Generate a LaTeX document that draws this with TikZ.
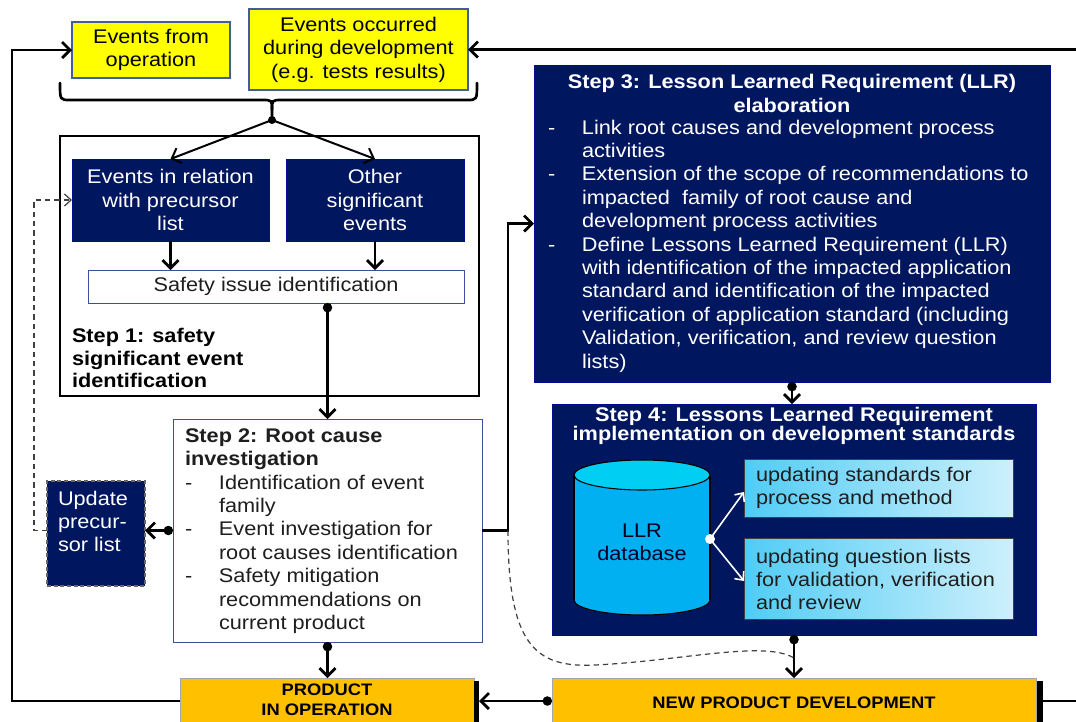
\documentclass[tikz,border=0pt]{standalone}
\usepackage{fontspec}
\setmainfont{Liberation Sans}[FakeStretch=1.1]
\usetikzlibrary{arrows.meta,fit,calc}
\definecolor{navy}{RGB}{0,22,94}
\definecolor{ylw}{RGB}{255,255,0}
\definecolor{ylwb}{RGB}{70,90,160}
\definecolor{bluebd}{RGB}{60,80,160}
\definecolor{orng}{RGB}{255,192,0}
\definecolor{cylbody}{RGB}{0,176,240}
\definecolor{cyltop}{RGB}{0,206,242}
\definecolor{lbL}{RGB}{80,204,245}
\definecolor{lbR}{RGB}{205,240,252}
\definecolor{txtd}{RGB}{30,30,30}
\newcommand{\Dsh}{\makebox[25.5pt][l]{-}}
\newcommand{\Ind}{\hspace*{25.5pt}}
\tikzset{
  bbarb/.tip={Straight Barb[length=6pt,width=12pt]},
  wbarb/.tip={Straight Barb[length=5pt,width=9pt]},
  dott/.tip={Circle[length=7pt]},
}
\begin{document}
\begin{tikzpicture}[x=0.75pt,y=-0.75pt,
  font=\fontsize{14.8}{17.55}\selectfont,
  every node/.style={inner sep=0pt, outer sep=0pt},
  ybox/.style={draw=ylwb, line width=0.8pt, fill=ylw},
  nbox/.style={fill=navy, draw=navy!70!blue, line width=0.5pt},
  wbox/.style={fill=white, draw=bluebd, line width=0.7pt},
  obox/.style={fill=orng, draw=gray!70, line width=0.5pt},
  lbox/.style={left color=lbL, right color=lbR, draw=black!75, line width=0.7pt},
  txt/.style={align=left, text=txtd},
  ctxt/.style={align=center},
  thk/.style={line width=2pt},
  mid/.style={line width=1.5pt},
  dsh/.style={line width=0.9pt, draw=black!75, dash pattern=on 4pt off 3pt},
]
\useasboundingbox (0,0) rectangle (1076,722);
\clip (0,0) rectangle (1076,722);

% coordinates for loop lines
\coordinate (lp) at (12,400);
\coordinate (rt) at (1080,49.5);
\coordinate (rb) at (1080,701);
\coordinate (dl) at (34,400);
\coordinate (j1) at (508,400);
\coordinate (br) at (272,120);

% top yellow boxes
\node[ybox, fit={(72,22)(230,78)}] (ev1) {};
\node[ctxt] (ev1t) at (ev1.center) {Events from\\operation};
\node[ybox, fit={(249,9)(468,90)}] (ev2) {};
\node[ctxt] (ev2t) at (ev2.center) {Events occurred\\during development\\(e.g. tests results)};

% Step 1
\node[fill=white, draw=black, line width=1.5pt, fit={(60,136)(479,396)}] (step1) {};
\node[nbox, fit={(72,159)(269,241)}] (evrel) {};
\node[ctxt, text=white] (evrelt) at (evrel.center) {Events in relation\\with precursor\\list};
\node[nbox, fit={(286,159)(464,241)}] (other) {};
\node[ctxt, text=white] (othert) at (other.center) {Other\\significant\\events};
\node[wbox, fit={(88,270)(464,303)}] (safety) {};
\node[text=txtd] (safetyt) at (safety.center) {Safety issue identification};
\node[align=left, anchor=west, font=\fontsize{14.8}{16.9}\selectfont\bfseries] (s1lab) at (72,358) {Step 1: safety\\significant event\\identification};

% Step 2
\node[wbox, fit={(173,419)(482,642)}] (step2) {};
\node[txt, anchor=west] (s2txt) at (185,531) {{\bfseries Step 2: Root cause}\\
{\bfseries investigation}\\
\Dsh Identification of event\\
\Ind family\\
\Dsh Event investigation for\\
\Ind root causes identification\\
\Dsh Safety mitigation\\
\Ind recommendations on\\
\Ind current product};

% Update precursor list
\node[fill=navy, draw=black!60, line width=0.8pt, dash pattern=on 3pt off 2pt, fit={(47,481)(145,586)}] (upd) {};
\node[align=left, anchor=west, text=white] (updtxt) at (58,521.5) {Update\\precur-\\sor list};

% Step 3
\node[nbox, fit={(534,65)(1050,382)}] (step3) {};
\node[align=center, text=white, font=\fontsize{14.8}{17.55}\selectfont\bfseries] (s3title) at (792,93.5) {Step 3: Lesson Learned Requirement (LLR)\\elaboration};
\node[align=left, anchor=west, text=white] (s3list) at (548,246) {\Dsh Link root causes and development process\\
\Ind activities\\
\Dsh Extension of the scope of recommendations to\\
\Ind impacted\ \ family of root cause and\\
\Ind development process activities\\
\Dsh Define Lessons Learned Requirement (LLR)\\
\Ind with identification of the impacted application\\
\Ind standard and identification of the impacted\\
\Ind verification of application standard (including\\
\Ind Validation, verification, and review question\\
\Ind lists)};

% Step 4
\node[nbox, fit={(552,404)(1036,635)}] (step4) {};
\node[align=center, text=white, font=\fontsize{14.8}{14}\selectfont\bfseries] (s4title) at (794,426) {Step 4: Lessons Learned Requirement\\implementation on development standards};

% cylinder
\fill[cylbody] (574,475) rectangle (710,600);
\fill[cylbody] (642,600) ellipse [x radius=68, y radius=15];
\begin{scope}
\clip (560,600) rectangle (722,620);
\draw[line width=0.8pt] (642,600) ellipse [x radius=68, y radius=15];
\end{scope}
\draw[line width=0.8pt] (574,475) -- (574,600) (710,475) -- (710,600);
\filldraw[fill=cyltop, line width=0.8pt] (642,475) ellipse [x radius=68, y radius=15];
\node[align=center, text=black!85!blue] (cyl) at (642,542.5) {LLR\\database};
\coordinate (cylr) at (710,539);

\node[lbox, fit={(744,459)(1013,517)}] (lb1) {};
\node[txt, anchor=west] (lb1txt) at (756,488) {updating standards for\\process and method};
\node[lbox, fit={(744,538)(1013,619)}] (lb2) {};
\node[txt, anchor=west] (lb2txt) at (756,579.5) {updating question lists\\for validation, verification\\and review};

\draw[white, line width=1.2pt, -{wbarb}] (cylr) -- ($(lb1.south west)+(0,-25)$);
\draw[white, line width=1.2pt, -{wbarb}] (cylr) -- ($(lb2.north west)+(0,43)$);
\fill[white] (cylr) circle [radius=5];

% bottom orange boxes
\node[obox, fit={(180,678)(474,724)}] (prod) {};
\node[align=center, font=\fontsize{12.5}{15}\selectfont\bfseries] (prodtxt) at (327,699.5) {PRODUCT\\IN OPERATION};
\node[obox, fit={(552,678)(1036,724)}] (npd) {};
\node[font=\fontsize{12.5}{15}\selectfont\bfseries] (npdtxt) at (794,703) {NEW PRODUCT DEVELOPMENT};
\fill[black] (474,681) rectangle (479,724);
\fill[black] (1037,681) rectangle (1043,724);

% brace
\draw[thk, line cap=round] (60,83) .. controls (60,100) .. (70,100) -- (262,100) .. controls (272,100) .. (272,110) -- (br);
\draw[thk, line cap=round] (477,83) .. controls (477,100) .. (467,100) -- (282,100) .. controls (272,100) .. (272,110);
\fill (br) circle [radius=4];

% connectors
\draw[mid, -{bbarb}] (br) -- (evrel.north);
\draw[mid, -{bbarb}] (br) -- (other.north);
\draw[thk, -{bbarb}] (evrel.south) -- (evrel.south |- safety.north);
\draw[thk, -{bbarb}] (other.south) -- (other.south |- safety.north);
\draw[thk, {dott}-{bbarb}] (safety.south -| step2.north) -- (step2.north);
\draw[thk, {dott}-{bbarb}] (step2.west) -- (upd.east |- step2.west);
\draw[dsh, -{wbarb}] (upd.west |- step2.west) -| (dl) |- (evrel.west);
\draw[thk, -{bbarb}] (step2.east) -| (j1) |- (step3.west);
\draw[thk, {dott}-{bbarb}] (step3.south) -- (step3.south |- step4.north);
\draw[thk, {dott}-{bbarb}] (step4.south) -- (npd.north);
\draw[thk, {dott}-{bbarb}] (step2.south) -- (step2.south |- prod.north);
\draw[thk, {dott}-{bbarb}] (npd.west) -- ($(prod.east)+(5,0)$);
\draw[thk, -{bbarb}] (prod.west) -| (lp) |- (ev1.west);
\draw[thk, -{bbarb}] (rt) -- (ev2.east);
\draw[thk] (1043,701) -- (rb);
\draw[dsh] (step2.east -| j1) .. controls (508,645) and (535,668) .. (595,665) .. controls (680,661) and (765,640) .. ($(npd.north)+(0,-20)$);
\end{tikzpicture}
\end{document}
